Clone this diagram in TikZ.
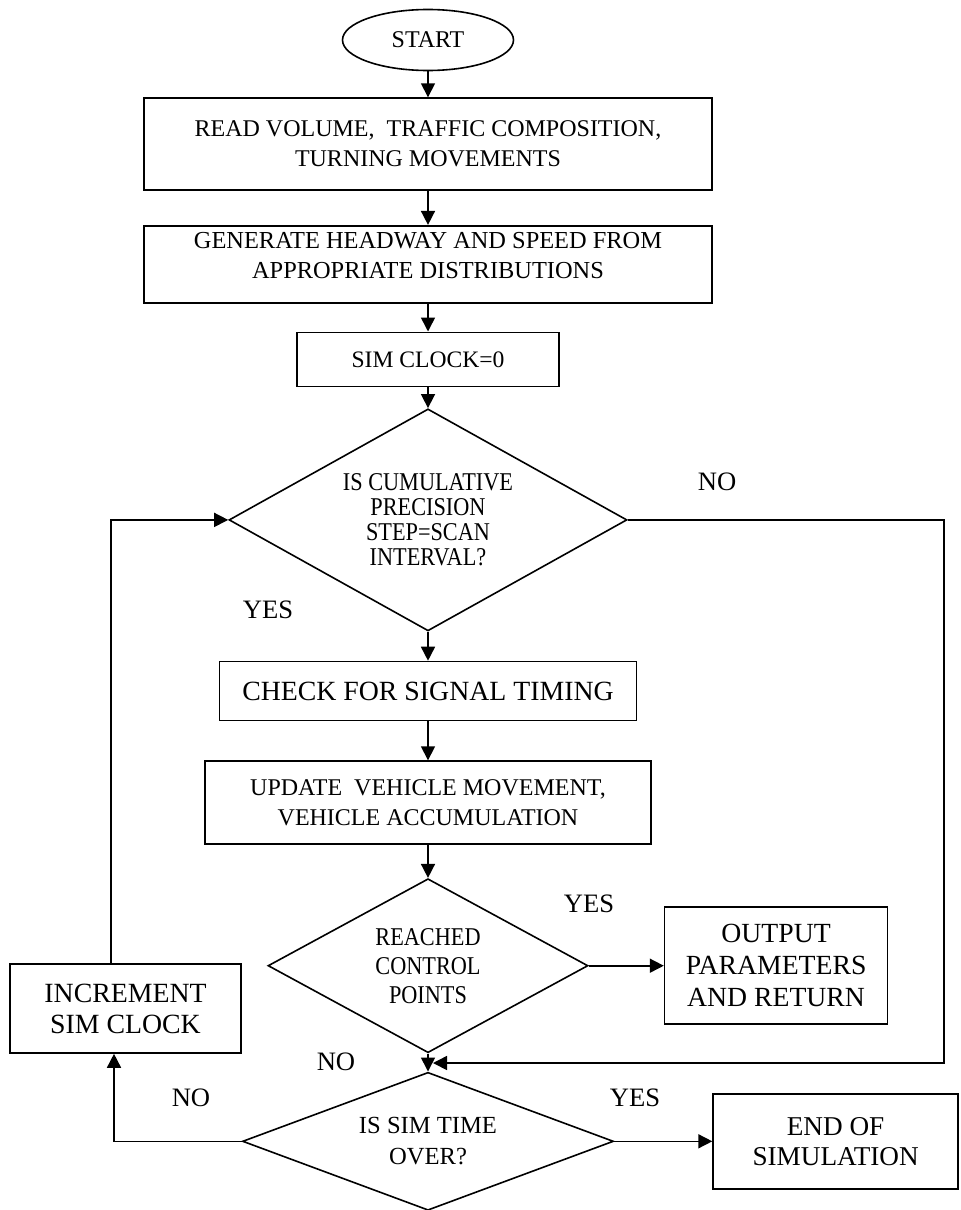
\documentclass[tikz,border=0pt]{standalone}
\usepackage{fontspec}
\setmainfont{Liberation Serif}
\newfontfamily\narrowfont[FakeStretch=0.87]{Liberation Serif}
\usetikzlibrary{positioning}
\usetikzlibrary{arrows.meta,shapes}

\tikzset{
  terminal/.style={ellipse,draw,minimum width=85.5pt,minimum height=30.5pt,inner sep=0pt},
  process/.style={rectangle,draw,align=center,inner sep=2pt},
  decision/.style={diamond,draw,align=center,inner sep=0pt},
  lbl/.style={font=\fontsize{13.3}{16}\selectfont}
}

\begin{document}
\begin{tikzpicture}[x=0.5pt,y=-0.5pt,line width=0.8pt,>={Triangle[length=7pt,width=7pt]},
  font=\fontsize{12}{15}\selectfont]
 \useasboundingbox (0,0) rectangle (961,1210);
  \node[terminal] (start) at (428,40) {START};
  \node[process] (read) [below=13pt of start,minimum width=284pt,minimum height=46pt] {READ VOLUME,\ \ TRAFFIC COMPOSITION,\\ TURNING MOVEMENTS};
  \node[process] (gen) [below=17pt of read,minimum width=284pt,minimum height=38.5pt,font=\fontsize{12.2}{15}\selectfont] {GENERATE HEADWAY AND SPEED FROM\\ APPROPRIATE DISTRIBUTIONS\\[-6pt]\mbox{}};
  \node[process] (clk) [below=14pt of gen,minimum width=131pt,minimum height=27pt,font=\fontsize{11.8}{15}\selectfont] {SIM CLOCK=0};
  \node[decision] (cum) [below=10.5pt of clk,minimum width=199pt,minimum height=111pt,shape aspect=1.79,font=\narrowfont\fontsize{12.8}{12.5}\selectfont] {IS CUMULATIVE\\ PRECISION\\ STEP=SCAN\\ INTERVAL?};
  \node[process] (check) [below=14.5pt of cum,minimum width=208.5pt,minimum height=29.5pt,font=\fontsize{13.9}{17}\selectfont] {CHECK FOR SIGNAL TIMING};
  \node[process] (upd) [below=19.5pt of check,minimum width=223pt,minimum height=41.5pt] {UPDATE\ \ VEHICLE MOVEMENT,\\ VEHICLE ACCUMULATION};
  \node[decision] (reach) [below=16.5pt of upd,minimum width=160pt,minimum height=87pt,shape aspect=1.84,font=\narrowfont\fontsize{12.8}{14.5}\selectfont] {REACHED\\ CONTROL\\ POINTS};
  \node[decision] (simover) [below=9pt of reach,minimum width=185.5pt,minimum height=69pt,shape aspect=2.69,font=\fontsize{12.3}{15.5}\selectfont] {IS SIM TIME\\ OVER?};
  \node[process] (out) [right=37.5pt of reach,minimum width=111.5pt,minimum height=58.5pt,font=\fontsize{13.85}{16}\selectfont] {OUTPUT\\ PARAMETERS\\ AND RETURN};
  \node[process] (endsim) [right=49pt of simover,minimum width=122.5pt,minimum height=47.5pt,font=\fontsize{13.6}{15}\selectfont] {END OF\\ SIMULATION};
  \node[process] (inc) at (125.5,1008.5) [minimum width=115.5pt,minimum height=44.5pt,font=\fontsize{13.9}{15.5}\selectfont] {INCREMENT\\ SIM CLOCK};
  % yes / no labels
  \node[lbl] (nocum) at (717,482) {NO};
  \node[lbl] (yescum) at (268,610) {YES};
  \node[lbl] (yesreach) at (589,904) {YES};
  \node[lbl] (noreach) at (336,1062) {NO};
  \node[lbl] (nosim) at (191,1098) {NO};
  \node[lbl] (yessim) at (635,1098) {YES};
  \coordinate (rbot) at (944,1063);
  \coordinate (merge) at (433,1063);
  \draw[->] (start) -- (read);
  \draw[->] (read) -- (gen);
  \draw[->] (gen) -- (clk);
  \draw[->] (clk) -- (cum);
  \draw[->] (cum) -- (check);
  \draw[->] (check) -- (upd);
  \draw[->] (upd) -- (reach);
  \draw[->] (reach) -- (out);
  \draw[->] (reach) -- (simover);
  \draw[->] (simover) -- (endsim);
  \draw[->] (cum.east) -| (rbot) -- (merge);
  \draw[->] (simover.west) -| ([xshift=-5.75pt]inc.south);
  \draw[->] ([xshift=-7.25pt]inc.north) |- (cum.west);
\end{tikzpicture}
\end{document}
